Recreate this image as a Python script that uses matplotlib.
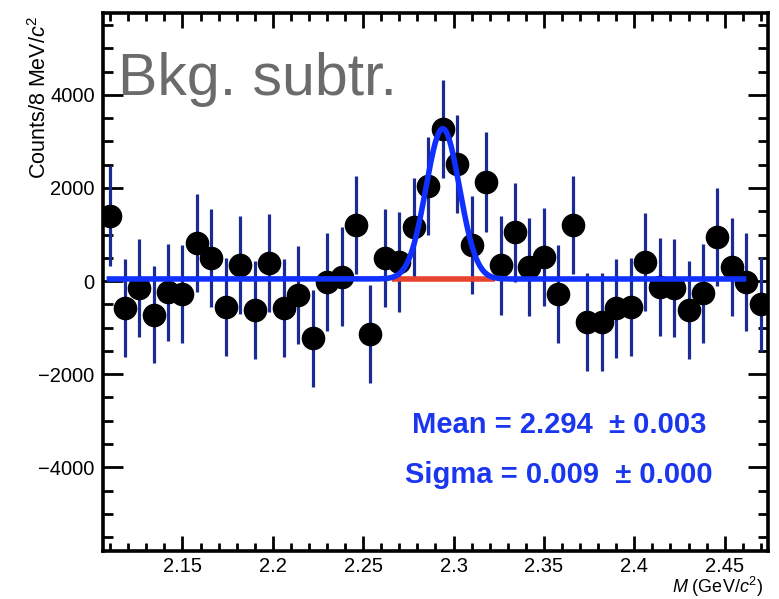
import numpy as np
import matplotlib
matplotlib.use('Agg')
import matplotlib.pyplot as plt

plt.rcParams['font.family'] = ['Liberation Sans', 'DejaVu Sans']
plt.rcParams['mathtext.fontset'] = 'custom'
plt.rcParams['mathtext.rm'] = 'Liberation Sans'
plt.rcParams['mathtext.it'] = 'Liberation Sans:italic'

# bin centres (8 MeV bins), GeV/c^2
mass = [2.110, 2.118, 2.126, 2.134, 2.142, 2.150, 2.158, 2.166, 2.174, 2.182,
        2.190, 2.198, 2.206, 2.214, 2.222, 2.230, 2.238, 2.246, 2.254, 2.262,
        2.270, 2.278, 2.286, 2.294, 2.302, 2.310, 2.318, 2.326, 2.334, 2.342,
        2.350, 2.358, 2.366, 2.374, 2.382, 2.390, 2.398, 2.406, 2.414, 2.422,
        2.430, 2.438, 2.446, 2.454, 2.462, 2.470]

# background subtracted counts per bin
counts = [1400, -580, -150, -720, -240, -280, 810, 500, -560, 350,
          -620, 390, -580, -300, -1230, -20, 90, 1210, -1140, 490,
          410, 1160, 2040, 3270, 2520, 780, 2130, 340, 1050, 300,
          520, -280, 1210, -880, -880, -580, -560, 410, -130, -150,
          -620, -260, 950, 300, -20, -500]

errors = [1075, 1055, 1055, 1045, 1045, 1055, 1055, 1055, 1055, 1055,
          1045, 1055, 1055, 1055, 1045, 1055, 1065, 1055, 1055, 1055,
          1065, 1065, 1055, 1045, 1055, 1055, 1065, 1065, 1065, 1045,
          1055, 1045, 1055, 1055, 1055, 1065, 1055, 1055, 1055, 1055,
          1045, 1065, 1055, 1045, 1055, 1010]

# fit result
fit_mean = 2.294
fit_sigma = 0.0093
fit_amp = 3230.0
fit_bkg = 45.0
fit_lo, fit_hi = 2.108, 2.462
sig_lo, sig_hi = 2.266, 2.323


def fit_func(x):
    return fit_bkg + fit_amp*np.exp(-0.5*((x - fit_mean)/fit_sigma)**2)


fig = plt.figure(figsize=(7.79, 5.99), dpi=100)
ax = fig.add_axes([0.1322, 0.0801, 0.8537, 0.8982])

ax.errorbar(mass, counts, yerr=errors, fmt='none', ecolor='#1b2a94',
            elinewidth=2.3, capsize=0, zorder=2)
ax.plot(mass, counts, 'o', color='black', markersize=16, zorder=3)

xs = np.linspace(sig_lo, sig_hi, 50)
ax.plot(xs, np.full_like(xs, fit_bkg), color='#e8432e', lw=4, zorder=4,
        solid_capstyle='butt')
xf = np.linspace(fit_lo, fit_hi, 800)
ax.plot(xf, fit_func(xf), color='#1030ff', lw=4, zorder=5,
        solid_capstyle='butt')

ax.set_xlim(2.106, 2.474)
ax.set_ylim(-5800, 5760)
ax.set_xticks([2.15, 2.2, 2.25, 2.3, 2.35, 2.4, 2.45])
ax.set_xticklabels(['2.15', '2.2', '2.25', '2.3', '2.35', '2.4', '2.45'])
ax.set_xticks(np.arange(2.11, 2.474, 0.01), minor=True)
ax.set_yticks([-4000, -2000, 0, 2000, 4000])
ax.set_yticks(np.arange(-5500, 5760, 500), minor=True)

for s in ax.spines.values():
    s.set_linewidth(2.6)
ax.tick_params(axis='both', which='both', direction='in', top=True, right=True,
               width=2.0, labelsize=14.5)
ax.tick_params(axis='x', which='major', length=11, pad=4)
ax.tick_params(axis='x', which='minor', length=5.5)
ax.tick_params(axis='y', which='major', length=14.5, pad=6)
ax.tick_params(axis='y', which='minor', length=7)

# axis titles placed ROOT-style
fig.text(40/779, 1 - 15/599, r'Counts/8 MeV/$c^2$', fontsize=15.5, rotation=90,
         ha='center', va='top')
fig.text(763/779, 1 - 593/599, r'$M$ (GeV/$c^2$)', fontsize=13,
         ha='right', va='baseline')

ax.text(0.022, 0.848, 'Bkg. subtr.', transform=ax.transAxes, fontsize=42.5,
        color='#6b6b6b', ha='left', va='baseline', zorder=6)
ax.text(0.686, 0.234, 'Mean = 2.294  \u00b1 0.003', transform=ax.transAxes,
        fontsize=21, fontweight='bold', color='#1a36ee', ha='center', va='center')
ax.text(0.686, 0.141, 'Sigma = 0.009  \u00b1 0.000', transform=ax.transAxes,
        fontsize=21, fontweight='bold', color='#1a36ee', ha='center', va='center')

fig.savefig('out.png', dpi=100)
